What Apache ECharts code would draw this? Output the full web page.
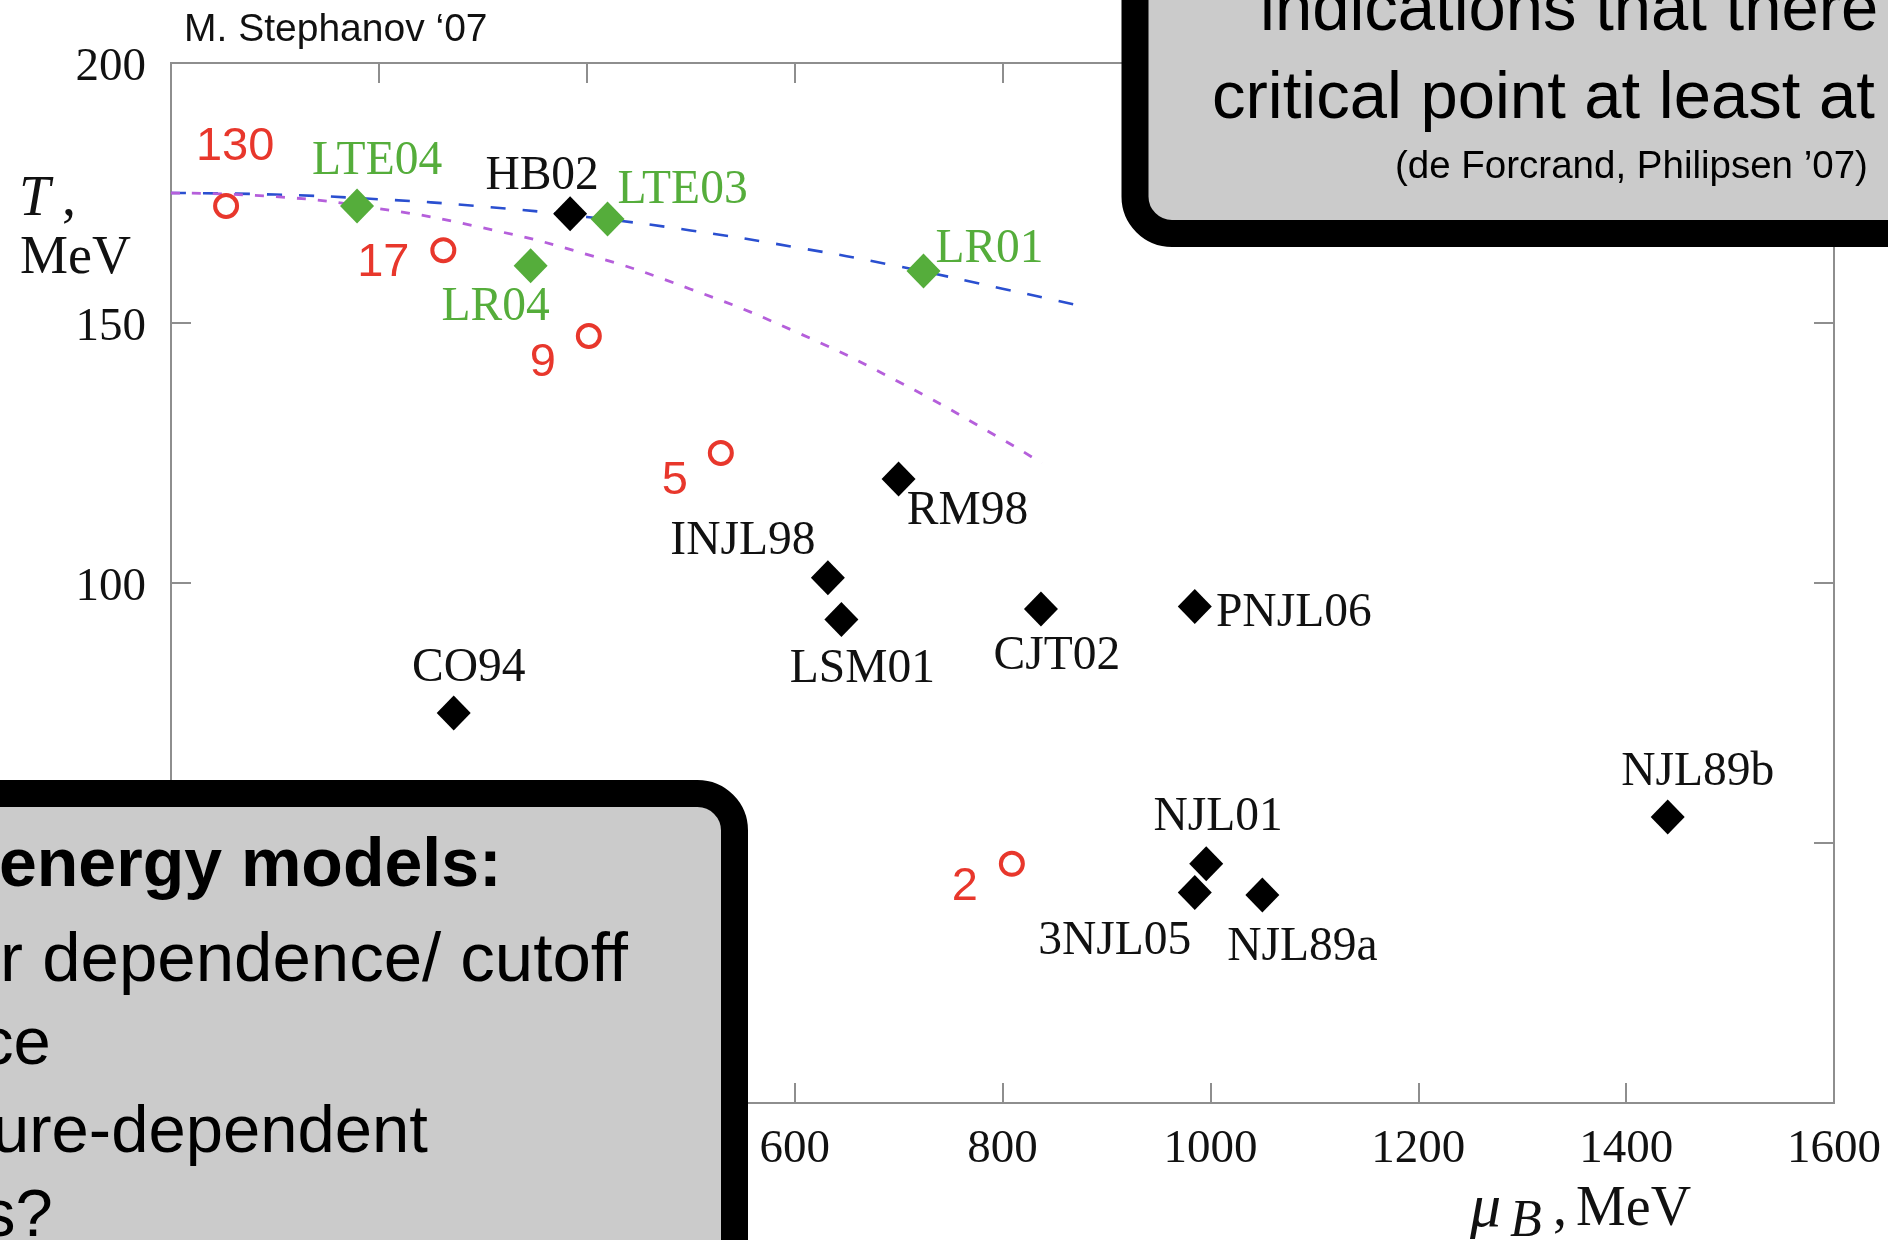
<!DOCTYPE html>
<html><head><meta charset="utf-8">
<script src="https://cdn.jsdelivr.net/npm/echarts@6/dist/echarts.min.js"></script>
<style>html,body{margin:0;padding:0;background:#fff;overflow:hidden}#c{width:1888px;height:1240px}</style>
</head><body><div id="c"></div>
<script>
// ---- data ----
const xTickValues = [0, 200, 400, 600, 800, 1000, 1200, 1400, 1600];
const yTickValues = [0, 50, 100, 150, 200];
const exptNames = ['130', '17', '9', '5', '2'];
const exptMuB = [53, 262, 402, 529, 809];
const exptT = [172.5, 164, 147.5, 125, 46];
const latticeNames = ['LTE04', 'LR04', 'LTE03', 'LR01'];
const latticeMuB = [179, 346, 420, 724];
const latticeT = [172.5, 161, 170, 160];
const modelNames = ['HB02', 'RM98', 'INJL98', 'LSM01', 'CO94', 'CJT02', 'PNJL06', 'NJL89b', 'NJL01', '3NJL05', 'NJL89a'];
const modelMuB = [384, 700, 632, 645, 272, 837, 985, 1440, 996, 985, 1050];
const modelT = [171, 120, 101, 93, 75, 95, 95.5, 55, 46, 40.5, 40];
const blueMuB = [0, 100, 200, 300, 400, 500, 600, 700, 800, 870];
const blueT = [175, 174.7, 173.8, 172.4, 170.4, 167.8, 164.6, 160.9, 156.6, 153.5];
const purpleMuB = [0, 100, 200, 300, 400, 500, 600, 700, 800, 838];
const purpleT = [175, 174.3, 172, 168.3, 163.2, 156.5, 148.4, 138.7, 127.6, 123];

// ---- label placement (layout, in px relative to marker centre) ----
const labelOffsets = {
  '130': [9, -59], '17': [-60, 13], '9': [-46, 27], '5': [-46, 28], '2': [-47, 23],
  'LTE04': [20, -44], 'LR04': [-35, 42], 'LTE03': [75, -28], 'LR01': [66, -21],
  'HB02': [-28, -37], 'RM98': [69, 33], 'INJL98': [-85, -36], 'LSM01': [21, 50],
  'CO94': [15, -44], 'CJT02': [16, 48], 'PNJL06': [99, 7], 'NJL89b': [30, -44],
  'NJL01': [12, -46], '3NJL05': [-80, 49], 'NJL89a': [40, 53]
};

const RED = '#e8372c', GREEN = '#55ad3b', BLUE = '#2a4fd0', PURPLE = '#b55fdb';
const AXIS = '#8e8e8e';
const SERIF = '"Liberation Serif", "Times New Roman", serif';
const SANS = '"Liberation Sans", Arial, Helvetica, sans-serif';

function pts(names, xs, ys) {
  return names.map((n, i) => ({ name: n, value: [xs[i], ys[i]], label: { offset: labelOffsets[n] } }));
}
function line(xs, ys) { return xs.map((x, i) => [x, ys[i]]); }
function mkLine() { return { show: true, onZero: false, lineStyle: { color: AXIS, width: 2 } }; }
function mkTick() { return { show: true, inside: true, length: 20, lineStyle: { color: AXIS, width: 2 } }; }
const plain = v => String(v);

const xMin = xTickValues[0], xMax = xTickValues[xTickValues.length - 1], xStep = xTickValues[1] - xTickValues[0];
const yMin = yTickValues[0], yMax = yTickValues[yTickValues.length - 1], yStep = yTickValues[1] - yTickValues[0];

const chart = echarts.init(document.getElementById('c'), null, { renderer: 'canvas' });
chart.setOption({
  animation: false,
  backgroundColor: '#fff',
  grid: { left: 171, right: 54, top: 63, bottom: 137, containLabel: false, show: true,
          borderColor: AXIS, borderWidth: 2, backgroundColor: 'rgba(0,0,0,0)' },
  xAxis: [
    { type: 'value', position: 'bottom', min: xMin, max: xMax, interval: xStep,
      axisLine: mkLine(), axisTick: mkTick(), splitLine: { show: false },
      axisLabel: { show: true, margin: 23, fontFamily: SERIF, fontSize: 47, color: '#111', formatter: plain } },
    { type: 'value', position: 'top', min: xMin, max: xMax, interval: xStep,
      axisLine: mkLine(), axisTick: mkTick(), splitLine: { show: false },
      axisLabel: { show: false } }
  ],
  yAxis: [
    { type: 'value', position: 'left', min: yMin, max: yMax, interval: yStep,
      axisLine: mkLine(), axisTick: mkTick(), splitLine: { show: false },
      axisLabel: { show: true, margin: 25, fontFamily: SERIF, fontSize: 47, color: '#111', formatter: plain,
                   verticalAlign: 'top', lineHeight: 10 } },
    { type: 'value', position: 'right', min: yMin, max: yMax, interval: yStep,
      axisLine: mkLine(), axisTick: mkTick(), splitLine: { show: false },
      axisLabel: { show: false } }
  ],
  series: [
    { type: 'line', data: line(blueMuB, blueT), smooth: true, showSymbol: false, z: 2,
      lineStyle: { color: BLUE, width: 2.6, type: [15, 17] } },
    { type: 'line', data: line(purpleMuB, purpleT), smooth: true, showSymbol: false, z: 2,
      lineStyle: { color: PURPLE, width: 2.8, type: [9, 12] } },
    { type: 'scatter', data: pts(modelNames, modelMuB, modelT), symbol: 'diamond', symbolSize: [34, 35], z: 3,
      itemStyle: { color: '#000', opacity: 1 },
      label: { show: true, position: 'inside', formatter: '{b}', fontFamily: SERIF, fontSize: 47.5, color: '#111' } },
    { type: 'scatter', data: pts(latticeNames, latticeMuB, latticeT), symbol: 'diamond', symbolSize: [34, 35], z: 4,
      itemStyle: { color: GREEN, opacity: 1 },
      label: { show: true, position: 'inside', formatter: '{b}', fontFamily: SERIF, fontSize: 47.5, color: GREEN } },
    { type: 'scatter', data: pts(exptNames, exptMuB, exptT), symbol: 'circle', symbolSize: 22, z: 4,
      itemStyle: { color: 'rgba(255,255,255,0)', borderColor: RED, borderWidth: 4, opacity: 1 },
      label: { show: true, position: 'inside', formatter: '{b}', fontFamily: SANS, fontSize: 47, color: RED } },
    // empty series so the mirrored top / right axes are bound and drawn
    { type: 'scatter', data: [], xAxisIndex: 1, yAxisIndex: 1, silent: true }
  ],
  graphic: [
    // axis titles
    { type: 'text', z: 50, style: { x: 19, y: 200, text: 'T', font: 'italic 56px ' + SERIF, fill: '#111', verticalAlign: 'middle' } },
    { type: 'text', z: 50, style: { x: 62, y: 200, text: ',', font: '56px ' + SERIF, fill: '#111', verticalAlign: 'middle' } },
    { type: 'text', z: 50, style: { x: 20, y: 259, text: 'MeV', font: '54px ' + SERIF, fill: '#111', verticalAlign: 'middle' } },
    { type: 'text', z: 50, style: { x: 1470, y: 1210, text: 'μ', font: 'italic 62px ' + SERIF, fill: '#111', verticalAlign: 'middle' } },
    { type: 'text', z: 50, style: { x: 1510, y: 1222, text: 'B', font: 'italic 52px ' + SERIF, fill: '#111', verticalAlign: 'middle' } },
    { type: 'text', z: 50, style: { x: 1553, y: 1210, text: ',', font: '56px ' + SERIF, fill: '#111', verticalAlign: 'middle' } },
    { type: 'text', z: 50, style: { x: 1576, y: 1210, text: 'MeV', font: '56px ' + SERIF, fill: '#111', verticalAlign: 'middle' } },
    // credit
    { type: 'text', z: 50, style: { x: 184, y: 30, text: 'M. Stephanov ‘07', font: '39px ' + SANS, fill: '#111', verticalAlign: 'middle' } },
    // top-right callout
    { type: 'rect', z: 100, shape: { x: 1135, y: -120, width: 900, height: 353.5, r: 37 },
      style: { fill: '#cbcbcb', stroke: '#000', lineWidth: 27 } },
    { type: 'text', z: 101, style: { x: 1260, y: 12, text: 'indications that there', font: '67px ' + SANS, fill: '#000', verticalAlign: 'middle' } },
    { type: 'text', z: 101, style: { x: 1212, y: 100, text: 'critical point at least at', font: '67px ' + SANS, fill: '#000', verticalAlign: 'middle' } },
    { type: 'text', z: 101, style: { x: 1395, y: 167, text: '(de Forcrand, Philipsen ’07)', font: '38.5px ' + SANS, fill: '#000', verticalAlign: 'middle' } },
    // bottom-left callout
    { type: 'rect', z: 100, shape: { x: -120, y: 793.5, width: 854.5, height: 600, r: 37 },
      style: { fill: '#cbcbcb', stroke: '#000', lineWidth: 27 } },
    { type: 'text', z: 101, style: { x: -1, y: 867, text: 'energy models:', font: 'bold 68px ' + SANS, fill: '#000', verticalAlign: 'middle' } },
    { type: 'text', z: 101, style: { x: 0, y: 962, text: 'r dependence/ cutoff', font: '69px ' + SANS, fill: '#000', verticalAlign: 'middle' } },
    { type: 'text', z: 101, style: { x: -20, y: 1046, text: 'ce', font: '67px ' + SANS, fill: '#000', verticalAlign: 'middle' } },
    { type: 'text', z: 101, style: { x: -8, y: 1134, text: 'ure-dependent', font: '67px ' + SANS, fill: '#000', verticalAlign: 'middle' } },
    { type: 'text', z: 101, style: { x: -18, y: 1218, text: 's?', font: '67px ' + SANS, fill: '#000', verticalAlign: 'middle' } }
  ]
});
</script></body></html>
